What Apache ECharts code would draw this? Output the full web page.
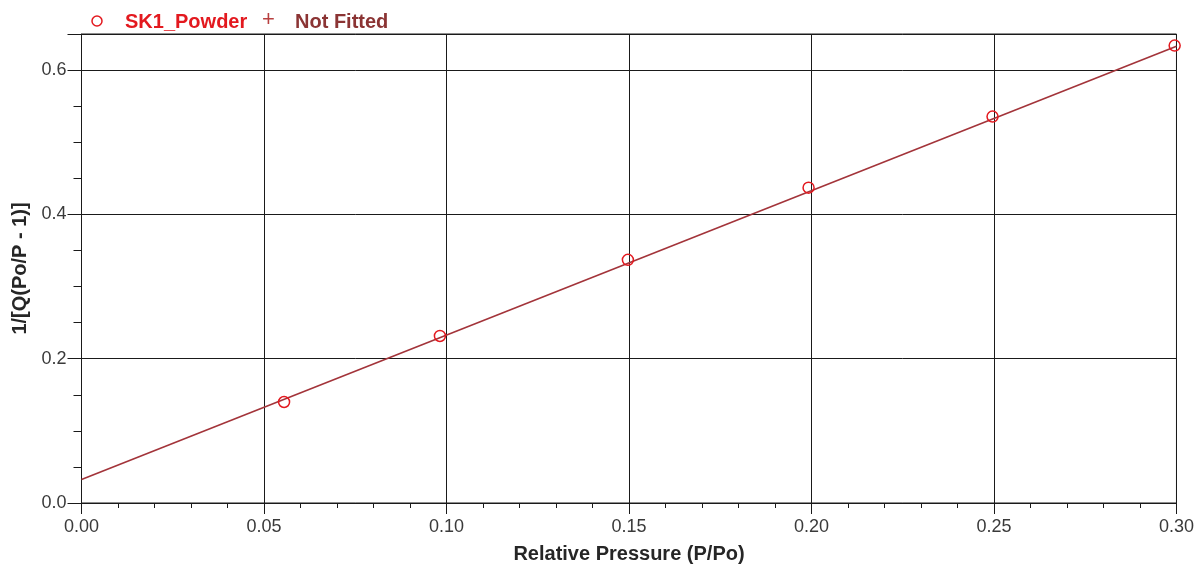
<!DOCTYPE html>
<html>
<head>
<meta charset="utf-8">
<script src="https://cdn.jsdelivr.net/npm/echarts@6/dist/echarts.min.js"></script>
<style>
  html, body { margin: 0; padding: 0; background: #fff; overflow: hidden; }
  #chart { width: 1197px; height: 569px; }
</style>
</head>
<body>
<div id="chart"></div>
<script>
// Measured BET points: relative pressure vs 1/[Q(Po/P - 1)]
const pressure = [0.0555, 0.0982, 0.1497, 0.1992, 0.2496, 0.2995];
const betValue = [0.140, 0.2315, 0.337, 0.437, 0.5355, 0.634];

// Linear fit, end points
const fitPressure = [0.0, 0.30];
const fitValue = [0.0325, 0.633];

const seriesName = 'SK1_Powder';
const fitName = 'Not Fitted';
const xTitle = 'Relative Pressure (P/Po)';
const yTitle = '1/[Q(Po/P - 1)]';

const FONT = 'Liberation Sans, Arial, sans-serif';
const INK = '#1a1a1a';
const LABEL = '#3a3a3a';
const RED = '#e3191f';

const chart = echarts.init(document.getElementById('chart'), null, { renderer: 'canvas', width: 1197, height: 569 });

const option = {
  animation: false,
  backgroundColor: '#ffffff',
  grid: {
    left: 81.5, width: 1095.5, top: 34, height: 474,
    show: true, borderColor: INK, borderWidth: 1, backgroundColor: 'transparent'
  },
  xAxis: {
    type: 'value', min: 0, max: 0.30, interval: 0.05,
    name: xTitle, nameLocation: 'middle', nameGap: 41,
    nameTextStyle: { fontFamily: FONT, fontSize: 20, fontWeight: 'bold', color: '#262626' },
    axisLine: { lineStyle: { color: INK, width: 1 } },
    axisTick: { show: true, inside: false, length: 11, lineStyle: { color: INK } },
    minorTick: { show: true, splitNumber: 5, length: 5, lineStyle: { color: INK } },
    splitLine: { show: true, lineStyle: { color: INK, width: 1 } },
    minorSplitLine: { show: false },
    axisLabel: {
      fontFamily: FONT, fontSize: 18, color: LABEL, margin: 15,
      formatter: v => v.toFixed(2)
    }
  },
  yAxis: [
    {
      type: 'value', min: 0, max: 0.65, interval: 0.2,
      name: yTitle, nameLocation: 'middle', nameGap: 50, nameRotate: 90,
      nameTextStyle: { fontFamily: FONT, fontSize: 20, fontWeight: 'bold', color: '#262626' },
      axisLine: { show: true, lineStyle: { color: INK, width: 1 } },
      axisTick: { show: true, inside: false, length: 14, lineStyle: { color: INK } },
      splitLine: { show: true, lineStyle: { color: INK, width: 1 } },
      axisLabel: {
        fontFamily: FONT, fontSize: 18, color: LABEL, margin: 15,
        formatter: v => (Math.abs(v * 5 - Math.round(v * 5)) < 1e-6 ? v.toFixed(1) : '')
      }
    },
    {
      // fine tick marks every 0.05
      type: 'value', min: 0, max: 0.65, interval: 0.05, position: 'left',
      axisLine: { show: false },
      axisTick: { show: true, inside: false, length: 8, lineStyle: { color: INK } },
      splitLine: { show: false },
      axisLabel: { show: false }
    }
  ],
  graphic: [
    {
      type: 'circle', shape: { cx: 97, cy: 21, r: 5 },
      style: { fill: 'none', stroke: RED, lineWidth: 1.5 }
    },
    {
      type: 'text', left: 125, top: 12,
      style: { text: seriesName, font: 'bold 20px ' + FONT, fill: RED }
    },
    {
      type: 'text', left: 262, top: 9,
      style: { text: '+', font: '22px ' + FONT, fill: '#b84040' }
    },
    {
      type: 'text', left: 295, top: 12,
      style: { text: fitName, font: 'bold 20px ' + FONT, fill: '#8b3434' }
    }
  ],
  series: [
    {
      name: fitName, type: 'line', yAxisIndex: 0,
      data: fitPressure.map((x, i) => [x, fitValue[i]]),
      showSymbol: false, symbol: 'none',
      lineStyle: { color: '#a3343a', width: 1.6 },
      z: 3
    },
    {
      name: seriesName, type: 'scatter', yAxisIndex: 0,
      data: pressure.map((x, i) => [x, betValue[i]]),
      symbol: 'circle', symbolSize: 11,
      itemStyle: { color: 'rgba(255,255,255,0)', borderColor: RED, borderWidth: 1.5, opacity: 1 },
      z: 4
    }
  ]
};

chart.setOption(option);
</script>
</body>
</html>
